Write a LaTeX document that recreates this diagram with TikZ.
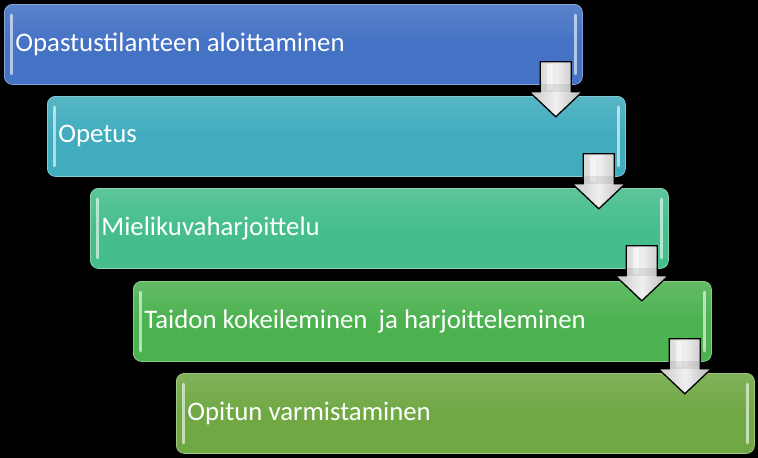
\documentclass[tikz,border=0pt]{standalone}
\usepackage{fontspec}
\setmainfont{Carlito}
\usetikzlibrary{calc}
\definecolor{cA}{RGB}{68,114,196}
\definecolor{cB}{RGB}{64,172,190}
\definecolor{cC}{RGB}{70,190,140}
\definecolor{cD}{RGB}{76,178,80}
\definecolor{cE}{RGB}{112,168,68}
\newcommand\boxfont{\fontsize{26.8pt}{30pt}\selectfont}
\newcommand\tightspace{\spaceskip=0.23em\relax}
\tikzset{
  stepbox/.style={anchor=north west, rounded corners=8pt, minimum width=578pt, minimum height=80pt,
    text width=556pt, inner xsep=11pt, inner ysep=0pt, align=left, text=white,
    font=\boxfont, execute at begin node=\tightspace,
    top color=#1!88!white, bottom color=#1, middle color=#1, draw=#1!65!white, line width=0.8pt},
  gloss/.style={white, opacity=0.6, line width=3pt, line cap=round},
  downarrow/.style={draw=black, line width=1.3pt, line join=miter, left color=black!22, right color=black!28, middle color=black!6},
}
\begin{document}
\begin{tikzpicture}[x=1pt,y=-1pt]
\fill[black] (0,0) rectangle (758,458);
\useasboundingbox (0,0) rectangle (758,458);
\node[stepbox=cA] (b1) at (4,4) {Opastustilanteen aloittaminen};
\node[stepbox=cB] (b2) at (47,96) {Opetus};
\node[stepbox=cC] (b3) at (90,188) {Mielikuvaharjoittelu};
\node[stepbox=cD] (b4) at (133,281) {Taidon kokeileminen\hspace{0.42em}ja harjoitteleminen};
\node[stepbox=cE] (b5) at (176,373) {Opitun varmistaminen};
\foreach \b in {b1,b2,b3,b4,b5}{
  \draw[gloss] ([xshift=7pt,yshift=-11pt]\b.north west) -- ([xshift=7pt,yshift=11pt]\b.south west);
  \draw[gloss] ([xshift=-7pt,yshift=-11pt]\b.north east) -- ([xshift=-7pt,yshift=11pt]\b.south east);
}
\foreach \b/\i in {b1/1,b2/2,b3/3,b4/4}{
  \coordinate (t\i) at ([xshift=-27pt,yshift=23pt]\b.south east);
  \draw[downarrow] (t\i) ++(-15.5,0) -- ++(0,30) -- ++(-11,0) -- ++(26.5,25) -- ++(26.5,-25) -- ++(-11,0) -- ++(0,-30) -- cycle;
  \fill[white, opacity=0.55] (t\i) ++(-9,2) rectangle ++(6,26);
  \fill[black, opacity=0.08] (t\i) ++(-15,22) rectangle ++(30,8);
}
\end{tikzpicture}
\end{document}
